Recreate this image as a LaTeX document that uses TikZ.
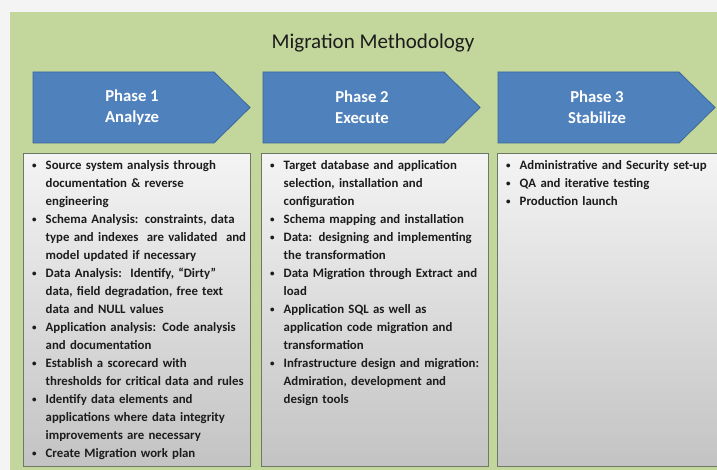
\documentclass[tikz,border=0pt]{standalone}
\usepackage{fontspec}
\setmainfont{Carlito}
\usetikzlibrary{calc}
\usetikzlibrary{positioning}
\usepackage{xcolor}
\definecolor{pagegray}{HTML}{F4F4F4}
\definecolor{panelgreen}{HTML}{C3D69B}
\definecolor{phaseblue}{HTML}{4F81BD}
\definecolor{phaseedge}{HTML}{3A679A}
\definecolor{boxtop}{HTML}{F4F4F4}
\definecolor{boxbot}{HTML}{C3C3C3}
\definecolor{boxedge}{HTML}{6E7866}
\definecolor{inktext}{HTML}{1C1C1C}
\newcommand{\itm}[1]{\noindent\hangindent=13.5pt\hangafter=1\makebox[13.5pt][l]{\raisebox{1pt}{\fontsize{9}{9}\selectfont\textbullet}}{\def\\{\hfil\break}#1}\par}
\tikzset{
 titletext/.style={text=inktext, font=\fontsize{21}{25}\selectfont},
 phase/.style={fill=phaseblue, draw=phaseedge, line width=.8pt},
 phasetext/.style={text=white, font=\bfseries\fontsize{16.7}{21}\selectfont, align=center},
 taskbox/.style={draw=boxedge, line width=.8pt, top color=boxtop, bottom color=boxbot, minimum width=227pt, minimum height=313pt, anchor=north west, inner sep=0pt},
 tasklist/.style={text=inktext, text width=214pt, inner sep=0pt, align=left, font=\bfseries\fontsize{12.8}{18}\selectfont}
}

\begin{document}
\begin{tikzpicture}[x=1pt,y=1pt]
\useasboundingbox (0,0) rectangle (717,470);
\fill[pagegray] (0,0) rectangle (717,470);
\fill[panelgreen] (10,0) rectangle (717,458);
\node[titletext] (title) at (373,427) {Migration Methodology};
\foreach \i/\x/\a in {1/33/Analyze, 2/263/Execute, 3/498/Stabilize} {
 \draw[phase] (\x,398) --++(181,0) --++(36,-35.5) --++(-36,-35.5) --++(-181,0) -- cycle;
 \node[phasetext] (ph\i) at (\x+99,362.5) {Phase \i\\\a};
}
\foreach \i/\x in {1/23, 2/261, 3/497}
 \node[taskbox] (box\i) at (\x,317) {};
\node[tasklist, below right=7pt and 9pt of box1.north west] (list1) {%
 \itm{Source system analysis through\\documentation \& reverse\\engineering}
 \itm{Schema Analysis: constraints, data\\type and indexes\ \ are validated\ \ and\\model updated if necessary}
 \itm{Data Analysis:\ \ Identify, “Dirty”\\data, field degradation, free text\\data and NULL values}
 \itm{Application analysis: Code analysis\\and documentation}
 \itm{Establish a scorecard with\\thresholds for critical data and rules}
 \itm{Identify data elements and\\applications where data integrity\\improvements are necessary}
 \itm{Create Migration work plan}};
\node[tasklist, below right=7pt and 9pt of box2.north west] (list2) {%
 \itm{Target database and application\\selection, installation and\\configuration}
 \itm{Schema mapping and installation}
 \itm{Data: designing and implementing\\the transformation}
 \itm{Data Migration through Extract and\\load}
 \itm{Application SQL as well as\\application code migration and\\transformation}
 \itm{Infrastructure design and migration:\\Admiration, development and\\design tools}};
\node[tasklist, below right=7pt and 9pt of box3.north west] (list3) {%
 \itm{Administrative and Security set-up}
 \itm{QA and iterative testing}
 \itm{Production launch}};
\end{tikzpicture}
\end{document}
